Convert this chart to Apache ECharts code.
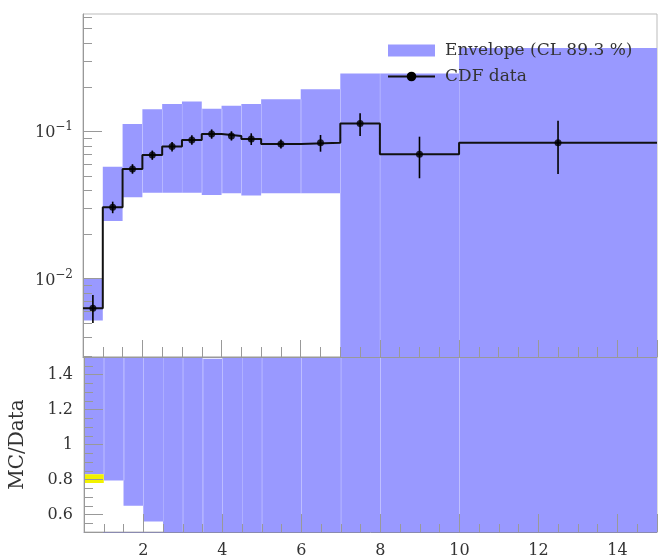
<!DOCTYPE html>
<html><head><meta charset="utf-8">
<script src="https://cdn.jsdelivr.net/npm/echarts@6/dist/echarts.min.js"></script>
<style>html,body{margin:0;padding:0;background:#fff}#c{width:658px;height:560px}</style>
</head><body><div id="c"></div>
<script>
// ---- data ----
const binEdges   = [0.5,1.0,1.5,2.0,2.5,3.0,3.5,4.0,4.5,5.0,6.0,7.0,8.0,10.0,15.0];
const binCenters = [0.75,1.25,1.75,2.25,2.75,3.25,3.75,4.25,4.75,5.5,6.5,7.5,9.0,12.5];
const cdfData    = [0.0063,0.0305,0.0555,0.069,0.0787,0.0873,0.0959,0.093,0.0887,0.082,0.0837,0.113,0.0698,0.0837];
const cdfErrLow  = [0.0050,0.0278,0.0515,0.064,0.073,0.081,0.089,0.0865,0.0807,0.0765,0.0727,0.0929,0.048,0.0513];
const cdfErrHigh = [0.00775,0.0333,0.0598,0.074,0.0845,0.094,0.103,0.100,0.0969,0.088,0.0944,0.1325,0.0919,0.118];
const envLow     = [0.0052,0.0246,0.0357,0.0383,0.0383,0.0383,0.037,0.038,0.0366,0.038,0.038,0.001,0.001,0.001];
const envHigh    = [0.0100,0.0575,0.112,0.141,0.153,0.159,0.142,0.149,0.153,0.165,0.193,0.247,0.247,0.367];
const ratioLow   = [0.83,0.795,0.65,0.56,0.49,0.44,0.39,0.41,0.41,0.46,0.45,0.01,0.01,0.01];
const ratioHigh  = [1.59,1.89,2.02,2.04,1.94,1.82,1.49,1.60,1.72,2.01,2.31,2.19,3.54,4.39];
const bandBins   = [0];          // bin index of the yellow band
const bandLow    = [0.78];
const bandHigh   = [0.83];
const logMinorTicks = [0.003,0.004,0.005,0.006,0.007,0.008,0.009,0.02,0.03,0.04,0.05,0.06,0.07,0.08,0.09,0.2,0.3,0.4,0.5,0.6];

const FONT = 'DejaVu Serif';
const ENV_COLOR = '#9999ff';
const AXIS_COLOR = '#999';

const nb = binCenters.length;
const envRects = envLow.map((lo,i)=>[binEdges[i],binEdges[i+1],lo,envHigh[i]]);
const ratioRects = ratioLow.map((lo,i)=>[binEdges[i],binEdges[i+1],lo,ratioHigh[i]]);
const bandRects = bandBins.map((b,k)=>[binEdges[b],binEdges[b+1],bandLow[k],bandHigh[k]]);
function seams(lo, hi){
  const out=[];
  for(let i=1;i<lo.length;i++) out.push([binEdges[i], Math.max(lo[i-1],lo[i]), Math.min(hi[i-1],hi[i])]);
  return out;
}
const stepPts = binEdges.map((e,i)=>[e, cdfData[Math.min(i,nb-1)]]);
const pts = binCenters.map((x,i)=>[x, cdfData[i]]);
const errs = binCenters.map((x,i)=>[x, cdfErrLow[i], cdfErrHigh[i]]);

function clipTo(params){ const c=params.coordSys; return {x:c.x,y:c.y,width:c.width,height:c.height}; }
function rectItem(params, api){
  const p0 = api.coord([api.value(0), api.value(3)]);
  const p1 = api.coord([api.value(1), api.value(2)]);
  const shape = echarts.graphic.clipRectByRect(
    {x:p0[0], y:p0[1], width:p1[0]-p0[0], height:p1[1]-p0[1]}, clipTo(params));
  if(!shape) return;
  return {type:'rect', shape, style:{fill: api.visual('color')}};
}
function seamItem(params, api){
  if(api.value(2) <= api.value(1)) return;
  const c = params.coordSys;
  const a = api.coord([api.value(0), api.value(2)]);
  const b = api.coord([api.value(0), api.value(1)]);
  const y0 = Math.max(a[1], c.y), y1 = Math.min(b[1], c.y + c.height);
  if(y1 <= y0) return;
  const x = Math.round(a[0]) + 0.5;
  return {type:'line', shape:{x1:x,y1:y0,x2:x,y2:y1}, style:{stroke:'rgba(255,255,255,0.18)', lineWidth:1}};
}
function errItem(params, api){
  const a = api.coord([api.value(0), api.value(1)]);
  const b = api.coord([api.value(0), api.value(2)]);
  return {type:'line', shape:{x1:a[0],y1:a[1],x2:b[0],y2:b[1]}, style:{stroke:'#000', lineWidth:1.6}};
}
function minorTickItem(params, api){
  const c = params.coordSys;
  const p = api.coord([binEdges[0], api.value(0)]);
  if(p[1] < c.y || p[1] > c.y + c.height) return;
  const y = Math.round(p[1]) + 0.5;
  return {type:'line', shape:{x1:c.x, y1:y, x2:c.x+9, y2:y}, style:{stroke:AXIS_COLOR, lineWidth:1}};
}

const chart = echarts.init(document.getElementById('c'), null, {renderer:'canvas'});
chart.setOption({
  animation:false,
  backgroundColor:'#fff',
  textStyle:{fontFamily:FONT},
  grid:[
    {left:83, top:14, width:574, height:343, show:true, borderColor:'#bbb', borderWidth:1, backgroundColor:'transparent'},
    {left:83, top:357, width:574, height:175, show:true, borderColor:'#bbb', borderWidth:1, backgroundColor:'transparent'}
  ],
  legend:{
    orient:'vertical', left:387, top:42, padding:0, itemWidth:47, itemHeight:12, itemGap:9,
    textStyle:{fontFamily:FONT, fontSize:17, color:'#333', padding:[0,0,0,5]},
    data:[
      {name:'Envelope (CL 89.3 %)', icon:'rect', itemStyle:{color:ENV_COLOR}},
      {name:'CDF data'}
    ]
  },
  xAxis:[
    {gridIndex:0, type:'value', min:binEdges[0], max:binEdges[binEdges.length-1], splitNumber:7, z:5,
     axisLine:{show:true, lineStyle:{color:AXIS_COLOR}},
     axisTick:{inside:true, length:17, lineStyle:{color:AXIS_COLOR}},
     minorTick:{show:true, splitNumber:4, length:10, lineStyle:{color:AXIS_COLOR}},
     axisLabel:{show:false}, splitLine:{show:false}},
    {gridIndex:1, type:'value', min:binEdges[0], max:binEdges[binEdges.length-1], splitNumber:7, z:5,
     axisLine:{show:true, lineStyle:{color:'#8a8ab0'}},
     axisTick:{inside:true, length:18, lineStyle:{color:AXIS_COLOR}},
     minorTick:{show:true, splitNumber:4, length:8, lineStyle:{color:AXIS_COLOR}},
     axisLabel:{showMinLabel:false, showMaxLabel:false, margin:11, fontFamily:FONT, fontSize:16, color:'#333'},
     splitLine:{show:false}}
  ],
  yAxis:[
    {gridIndex:0, type:'log', logBase:10, min:0.00294, max:0.625, z:5,
     axisLine:{show:true, lineStyle:{color:AXIS_COLOR}},
     axisTick:{inside:true, length:19, lineStyle:{color:AXIS_COLOR}},
     splitLine:{show:false},
     axisLabel:{showMinLabel:false, showMaxLabel:false, margin:10,
       formatter:v=>{const e=Math.round(Math.log10(v)); return '{b|10}{s|\u2212'+(-e)+'}';},
       rich:{b:{fontFamily:FONT,fontSize:16,color:'#333',padding:[4,0,0,0]},
             s:{fontFamily:FONT,fontSize:12,color:'#333',verticalAlign:'top'}}}},
    {gridIndex:1, type:'value', min:0.5, max:1.5, splitNumber:5, z:5,
     axisLine:{show:true, lineStyle:{color:AXIS_COLOR}},
     axisTick:{inside:true, length:19, lineStyle:{color:AXIS_COLOR}},
     minorTick:{show:true, splitNumber:4, length:9, lineStyle:{color:AXIS_COLOR}},
     splitLine:{show:false},
     axisLabel:{showMinLabel:false, showMaxLabel:false, margin:11, fontFamily:FONT, fontSize:16, color:'#333'},
     name:'MC/Data', nameLocation:'middle', nameGap:56, nameRotate:90,
     nameTextStyle:{fontFamily:FONT, fontSize:20, color:'#333'}}
  ],
  series:[
    {name:'Envelope (CL 89.3 %)', type:'custom', xAxisIndex:0, yAxisIndex:0, z:2,
     itemStyle:{color:ENV_COLOR}, renderItem:rectItem, data:envRects, encode:{x:[0,1], y:[2,3]}},
    {name:'envSeams', type:'custom', xAxisIndex:0, yAxisIndex:0, z:3, silent:true,
     renderItem:seamItem, data:seams(envLow, envHigh), encode:{x:0, y:[1,2]}},
    {name:'ratioEnv', type:'custom', xAxisIndex:1, yAxisIndex:1, z:2,
     itemStyle:{color:ENV_COLOR}, renderItem:rectItem, data:ratioRects, encode:{x:[0,1], y:[2,3]}},
    {name:'ratioSeams', type:'custom', xAxisIndex:1, yAxisIndex:1, z:3, silent:true,
     renderItem:seamItem, data:seams(ratioLow, ratioHigh), encode:{x:0, y:[1,2]}},
    {name:'band', type:'custom', xAxisIndex:1, yAxisIndex:1, z:3,
     itemStyle:{color:'#f2f200'}, renderItem:rectItem, data:bandRects, encode:{x:[0,1], y:[2,3]}},
    {name:'CDF data', type:'line', xAxisIndex:0, yAxisIndex:0, z:6, step:'end',
     data:stepPts, symbol:'circle', symbolSize:7, showSymbol:false,
     itemStyle:{color:'#000'}, lineStyle:{color:'#111', width:2}},
    {name:'errors', type:'custom', xAxisIndex:0, yAxisIndex:0, z:7,
     renderItem:errItem, data:errs, encode:{x:0, y:[1,2]}},
    {name:'points', type:'scatter', xAxisIndex:0, yAxisIndex:0, z:8,
     data:pts, symbol:'circle', symbolSize:7, itemStyle:{color:'#000'}},
    {name:'logMinor', type:'custom', xAxisIndex:0, yAxisIndex:0, z:9, silent:true,
     renderItem:minorTickItem, data:logMinorTicks.map(v=>[v]), encode:{y:0}}
  ]
});
</script></body></html>
